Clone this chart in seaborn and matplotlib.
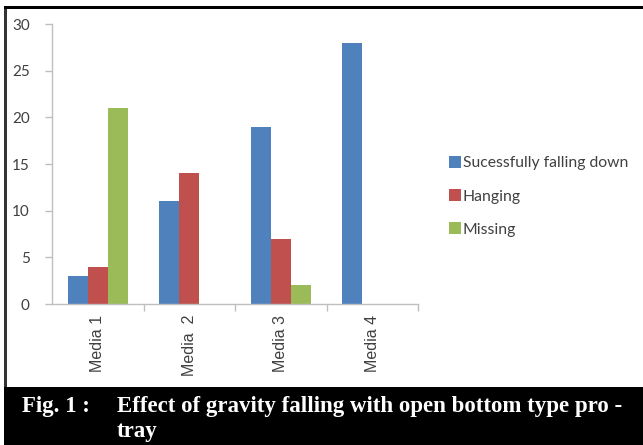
import matplotlib
matplotlib.use("Agg")
import matplotlib.pyplot as plt
import seaborn as sns
import pandas as pd
from matplotlib.patches import Rectangle
from matplotlib.ticker import FixedLocator

categories = ["Media 1", "Media  2", "Media 3", "Media 4"]
series = ["Sucessfully falling down", "Hanging", "Missing"]
falling = [3, 11, 19, 28]
hanging = [4, 14, 7, 0]
missing = [21, 0, 2, 0]
yticks = [0, 5, 10, 15, 20, 25, 30]
caption_label = "Fig. 1 :"
caption_line1 = "Effect of gravity falling with open bottom type pro -"
caption_line2 = "tray"

colors = ["#4F81BD", "#C0504D", "#9BBB59"]

rows = []
for s, vals in zip(series, [falling, hanging, missing]):
    for c, v in zip(categories, vals):
        rows.append({"cat": c, "series": s, "value": v})
df = pd.DataFrame(rows)

sns.set_theme(style="white")
plt.rcParams["font.family"] = ["Lato", "DejaVu Sans"]

W, H = 643, 445
fig = plt.figure(figsize=(W / 100, H / 100), dpi=100)
fig.patch.set_facecolor("white")

ax = fig.add_axes([52 / W, (H - 304) / H, (418 - 52) / W, (304 - 24) / H])
sns.barplot(data=df, x="cat", y="value", hue="series", order=categories,
            hue_order=series, palette=colors, width=0.66, saturation=1,
            ax=ax, legend=True, linewidth=0, errorbar=None)

ax.set_xlim(-0.5, 3.5)
ax.set_ylim(0, 30)
ax.set_yticks(yticks)
ax.set_xlabel("")
ax.set_ylabel("")
for sp in ["top", "right"]:
    ax.spines[sp].set_visible(False)
for sp in ["left", "bottom"]:
    ax.spines[sp].set_color("#BFBFBF")
    ax.spines[sp].set_linewidth(1.0)

ax.tick_params(axis="y", direction="out", length=5, color="#BFBFBF",
               width=1, left=True, pad=11, labelsize=11, labelcolor="#404040")
ax.set_xticks(range(len(categories)))
ax.set_xticklabels(categories, rotation=90, fontsize=11.5, color="#404040",
                   fontfamily="Liberation Sans")
ax.tick_params(axis="x", which="major", length=0, pad=8)
ax.xaxis.set_minor_locator(FixedLocator([0.5, 1.5, 2.5, 3.5]))
ax.tick_params(axis="x", which="minor", direction="out", length=5,
               color="#BFBFBF", width=1, bottom=True)
ax.grid(False)

handles, labels = ax.get_legend_handles_labels()
ax.legend(handles, labels, loc="upper left", bbox_to_anchor=(443 / W, (H - 150) / H),
          bbox_transform=fig.transFigure, frameon=False, fontsize=11.3,
          handlelength=0.75, handleheight=0.75, handletextpad=0.1,
          labelspacing=1.2, labelcolor="#404040", borderaxespad=0)

# Frame and caption box
fig.patches.append(Rectangle((4 / W, 0), 3 / W, (H - 6) / H, transform=fig.transFigure,
                             facecolor="#333333", edgecolor="none", zorder=5))
fig.patches.append(Rectangle((4 / W, (H - 9) / H), (W - 4) / W, 3 / H,
                             transform=fig.transFigure, facecolor="black",
                             edgecolor="none", zorder=5))
fig.patches.append(Rectangle((4 / W, 0), (W - 4) / W, (H - 387) / H,
                             transform=fig.transFigure, facecolor="black",
                             edgecolor="none", zorder=5))

cap_kw = dict(color="white", fontsize=16.5, fontweight="bold",
              fontfamily="Liberation Serif", va="baseline", ha="left", zorder=6)
fig.text(22 / W, (H - 412) / H, caption_label, **cap_kw)
fig.text(117 / W, (H - 412) / H, caption_line1, **cap_kw)
fig.text(117 / W, (H - 437) / H, caption_line2, **cap_kw)

fig.savefig("out.png", dpi=100)
